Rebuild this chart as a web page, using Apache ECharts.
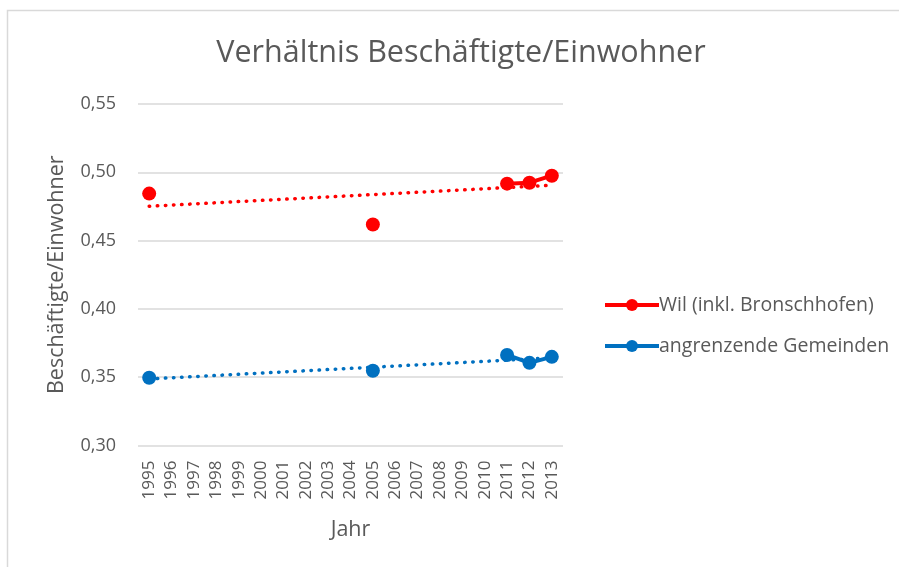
<!DOCTYPE html>
<html><head><meta charset="utf-8">
<script src="https://cdn.jsdelivr.net/npm/echarts@6/dist/echarts.min.js"></script>
<style>html,body{margin:0;padding:0;background:#fff;}#c{width:899px;height:567px;}</style>
</head><body><div id="c"></div>
<script>
var years = ['1995','1996','1997','1998','1999','2000','2001','2002','2003','2004','2005','2006','2007','2008','2009','2010','2011','2012','2013'];
var wil = [0.4844,null,null,null,null,null,null,null,null,null,0.4618,null,null,null,null,null,0.4917,0.4924,0.4975];
var angr = [0.3496,null,null,null,null,null,null,null,null,null,0.3547,null,null,null,null,null,0.3663,0.3605,0.3649];
var yTicks = ['0,30','0,35','0,40','0,45','0,50','0,55'];

function trend(arr){
  var xs=[],ys=[];
  arr.forEach(function(v,i){ if(v!=null){xs.push(i);ys.push(v);} });
  var n=xs.length,mx=0,my=0;
  for(var i=0;i<n;i++){mx+=xs[i];my+=ys[i];}
  mx/=n;my/=n;
  var sxy=0,sxx=0;
  for(var i=0;i<n;i++){sxy+=(xs[i]-mx)*(ys[i]-my);sxx+=(xs[i]-mx)*(xs[i]-mx);}
  var b=sxy/sxx,a=my-b*mx;
  return arr.map(function(_,i){return a+b*i;});
}
var font = '"Open Sans", sans-serif';
var chart = echarts.init(document.getElementById('c'), null, {renderer:'canvas'});
chart.setOption({
  animation:false,
  graphic:[{type:'rect',shape:{x:7.5,y:10.5,width:900,height:600},style:{fill:'none',stroke:'#d9d9d9',lineWidth:1.5},silent:true}],
  title:{text:'Verhältnis Beschäftigte/Einwohner',left:456,top:33,textAlign:'center',
    textStyle:{fontFamily:font,fontWeight:'normal',fontSize:30.5,color:'#595959'}},
  legend:{orient:'vertical',left:598,top:290,itemGap:21,itemWidth:54,itemHeight:15,
    data:['Wil (inkl. Bronschhofen)','angrenzende Gemeinden'],
    lineStyle:{width:4},
    textStyle:{fontFamily:font,fontSize:19.5,color:'#595959',padding:[0,0,0,-5]}},
  grid:{left:138,right:336,top:104,bottom:121.5},
  xAxis:{type:'category',data:years,boundaryGap:true,
    axisLine:{show:false},axisTick:{show:false},
    axisLabel:{rotate:90,interval:0,fontFamily:font,fontSize:17,color:'#595959',margin:15,lineHeight:20},
    name:'Jahr',nameLocation:'middle',nameGap:73,
    nameTextStyle:{fontFamily:font,fontSize:21.5,color:'#595959'}},
  yAxis:{type:'value',min:0.30,max:0.55,interval:0.05,
    axisLine:{show:false},axisTick:{show:false},
    splitLine:{lineStyle:{color:'#d9d9d9',width:1.5}},
    axisLabel:{fontFamily:font,fontSize:18,color:'#595959',margin:22,
      formatter:function(v){return yTicks[Math.round((v-0.30)/0.05)];}},
    name:'Beschäftigte/Einwohner',nameLocation:'middle',nameGap:70,
    nameTextStyle:{fontFamily:font,fontSize:21.5,color:'#595959'}},
  series:[
    {name:'Wil (inkl. Bronschhofen)',type:'line',data:wil,connectNulls:false,
      symbol:'circle',symbolSize:14,color:'#ff0000',lineStyle:{width:4,color:'#ff0000'},itemStyle:{color:'#ff0000'},z:5},
    {name:'angrenzende Gemeinden',type:'line',data:angr,connectNulls:false,
      symbol:'circle',symbolSize:14,color:'#0070c0',lineStyle:{width:4,color:'#0070c0'},itemStyle:{color:'#0070c0'},z:5},
    {name:'trendWil',type:'line',data:trend(wil),symbol:'none',silent:true,
      lineStyle:{width:3.5,color:'#ff0000',type:[0.5,7.6],cap:'round'},z:3},
    {name:'trendAngr',type:'line',data:trend(angr),symbol:'none',silent:true,
      lineStyle:{width:3.5,color:'#0070c0',type:[0.5,7.6],cap:'round'},z:3}
  ]
});
</script></body></html>
